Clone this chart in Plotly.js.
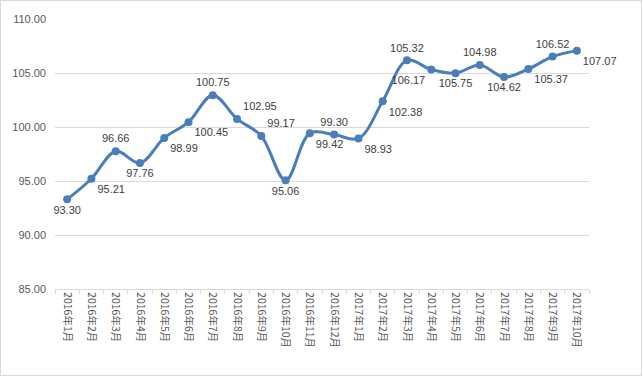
<!DOCTYPE html>
<html>
<head>
<meta charset="utf-8">
<script src="https://cdn.plot.ly/plotly-3.0.1.min.js"></script>
<style>
html, body { margin: 0; padding: 0; background: #ffffff; }
#wrap { box-sizing: border-box; width: 642px; height: 376px; border: 1px solid #d9d9d9; }
#chart { width: 640px; height: 374px; }
</style>
</head>
<body>
<div id="wrap"><div id="chart"></div></div>
<script>
const categories = [
  "2016年1月","2016年2月","2016年3月","2016年4月","2016年5月","2016年6月",
  "2016年7月","2016年8月","2016年9月","2016年10月","2016年11月","2016年12月",
  "2017年1月","2017年2月","2017年3月","2017年4月","2017年5月","2017年6月",
  "2017年7月","2017年8月","2017年9月","2017年10月"
];
const values = [
  93.30, 95.21, 97.76, 96.66, 98.99, 100.45,
  102.95, 100.75, 99.17, 95.06, 99.42, 99.30,
  98.93, 102.38, 106.17, 105.32, 104.98, 105.75,
  104.62, 105.37, 106.52, 107.07
];
const labelTexts = [
  "93.30","95.21","96.66","97.76","98.99","100.45",
  "100.75","102.95","99.17","95.06","99.42","99.30",
  "98.93","102.38","105.32","106.17","105.75","104.98",
  "104.62","105.37","106.52","107.07"
];
const labelPositions = [
  "bottom center","bottom right","top center","bottom center","bottom right","bottom right",
  "top center","top right","top right","bottom center","bottom right","top center",
  "bottom right","bottom right","top center","bottom left","bottom center","top center",
  "bottom center","bottom right","top center","bottom right"
];
const yTicks = [85, 90, 95, 100, 105, 110];

const trace = {
  type: "scatter",
  mode: "lines+markers+text",
  x: categories,
  y: values,
  text: labelTexts,
  textposition: labelPositions,
  textfont: { family: "Liberation Sans, Arial, sans-serif", size: 11, color: "#404040" },
  line: { color: "#4a7ebb", width: 3, shape: "spline", smoothing: 1 },
  marker: { color: "#4a7ebb", size: 8 },
  cliponaxis: false,
  hoverinfo: "x+y"
};

const layout = {
  width: 640,
  height: 374,
  margin: { l: 54, r: 52, t: 18, b: 86, pad: 0 },
  paper_bgcolor: "#ffffff",
  plot_bgcolor: "#ffffff",
  showlegend: false,
  font: { family: "Liberation Sans, Arial, sans-serif", size: 11, color: "#595959" },
  xaxis: {
    type: "category",
    range: [-0.5, categories.length - 0.5],
    tickson: "boundaries",
    ticks: "outside",
    ticklen: 4,
    tickcolor: "#d9d9d9",
    showline: true,
    linecolor: "#d9d9d9",
    linewidth: 1,
    showgrid: false,
    tickangle: 90,
    tickfont: { family: "Noto Sans CJK SC, sans-serif", size: 10.5, color: "#595959" },
    automargin: false,
    fixedrange: true
  },
  yaxis: {
    range: [85, 110],
    tickvals: yTicks,
    ticktext: yTicks.map(v => v.toFixed(2)),
    showgrid: true,
    gridcolor: "#d9d9d9",
    gridwidth: 1,
    zeroline: false,
    showline: false,
    ticks: "",
    ticklabelstandoff: 8,
    tickfont: { family: "Liberation Sans, Arial, sans-serif", size: 11, color: "#595959" },
    automargin: false,
    fixedrange: true
  }
};

Plotly.newPlot("chart", [trace], layout, { displayModeBar: false, staticPlot: true });
</script>
</body>
</html>
